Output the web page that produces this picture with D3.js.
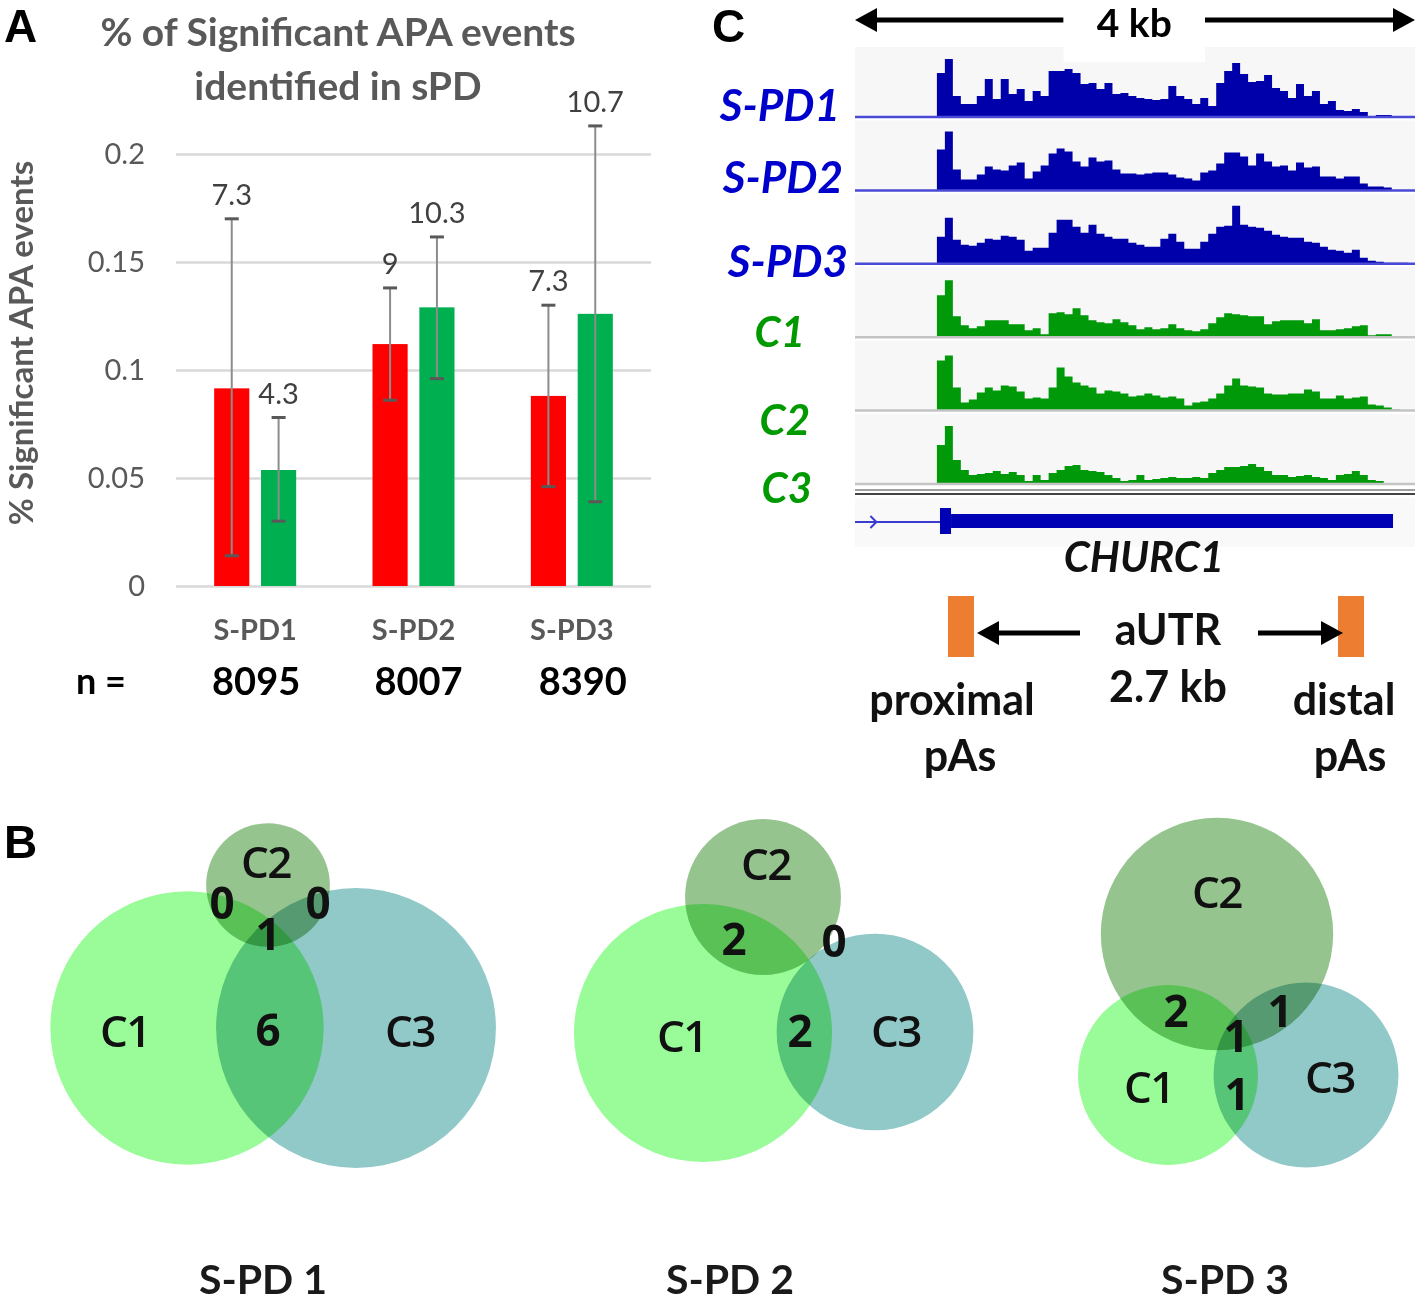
<!DOCTYPE html>
<html><head><meta charset="utf-8">
<script src="https://cdn.jsdelivr.net/npm/d3@7/dist/d3.min.js"></script>
<style>
html,body{margin:0;padding:0;background:#fff;}
svg{display:block;}
text{font-family:Lato,"Open Sans",sans-serif;}
</style></head>
<body><svg id="fig" width="1418" height="1303"></svg>
<script>
// ---------------- Panel A data ----------------
const categories = ["S-PD1", "S-PD2", "S-PD3"];
const nCounts = ["8095", "8007", "8390"];
const sPDValues = [0.0915, 0.112, 0.088];
const sPDErrLow = [0.014, 0.086, 0.046];
const sPDErrHigh = [0.170, 0.138, 0.130];
const sPDLabels = ["7.3", "9", "7.3"];
const ctrlValues = [0.0537, 0.129, 0.126];
const ctrlErrLow = [0.030, 0.096, 0.039];
const ctrlErrHigh = [0.078, 0.1616, 0.213];
const ctrlLabels = ["4.3", "10.3", "10.7"];
const yTicks = [0, 0.05, 0.1, 0.15, 0.2];
const yTickLabels = ["0", "0.05", "0.1", "0.15", "0.2"];

// ---------------- Panel C data (coverage, bins of 57 bp from 585 bp) ----------------
const trackNames = ["S-PD1", "S-PD2", "S-PD3", "C1", "C2", "C3"];
const covSPD1 = [44,58,21,13,13,21,38,18,38,23,28,16,26,21,46,46,48,44,33,34,28,34,23,24,21,19,18,17,18,31,21,18,13,19,11,34,46,54,43,35,36,42,29,26,19,33,21,26,13,16,7,6,8,5,1,2,2,0];
const covSPD2 = [41,59,21,11,11,16,24,21,20,25,28,12,19,25,37,42,39,29,24,33,29,30,21,17,17,16,17,18,18,16,13,12,10,18,20,27,38,38,34,25,37,29,24,25,20,28,23,24,14,14,12,14,14,7,4,4,3,0];
const covSPD3 = [27,46,24,19,18,21,25,24,28,27,24,13,16,16,31,44,44,37,31,39,30,27,25,25,21,19,17,17,25,30,22,15,15,22,30,37,38,58,39,37,36,33,29,27,26,26,22,21,17,14,13,11,14,6,3,2,1,1,1,0];
const covC1 = [42,57,21,12,9,11,17,17,17,13,13,7,9,3,24,25,23,29,22,17,15,14,18,15,12,8,10,8,9,13,9,7,6,8,14,20,24,23,22,21,21,13,16,17,17,17,14,18,7,7,8,9,11,12,2,3,3,0];
const covC2 = [50,55,23,8,11,18,23,20,25,24,19,12,13,12,23,43,34,28,25,23,17,20,19,17,14,15,17,15,13,14,12,5,8,9,12,17,25,32,25,24,23,17,16,16,17,17,21,19,12,12,15,12,13,14,6,5,3,1];
const covC3 = [39,58,24,14,9,10,11,13,10,12,9,3,9,4,11,14,18,19,14,13,12,9,6,3,4,9,4,5,6,7,6,6,7,6,11,14,17,17,18,20,17,13,9,9,7,8,9,7,6,4,9,10,13,9,4,3,1,0];
const covBinStart = 585, covBinSize = 57;
const geneThinEnd = 607, geneTallEnd = 686, geneEnd = 3843;
const proximalPA = 757, distalPA = 3543;

// ---------------- Panel B data ----------------
const vennTitles = ["S-PD 1", "S-PD 2", "S-PD 3"];
const vennSetNames = ["C1", "C2", "C3"];
const vennSetSizes = [[83, 17, 87], [74, 27, 43], [36, 60, 38]];
const vennRegionCounts = [["0", "0", "1", "6"], ["2", "0", "2"], ["2", "1", "1", "1"]];

// ==================================================
const svg = d3.select("#fig");
svg.append("rect").attr("width", 1418).attr("height", 1303).attr("fill", "#fff");

// panel letters
const letters = [["A", 4, 42], ["C", 712, 42], ["B", 4, 858]];
svg.selectAll("text.plet").data(letters).join("text").attr("class", "plet")
  .attr("x", d => d[1]).attr("y", d => d[2]).text(d => d[0])
  .style("font-family", "'Liberation Sans',Arial,sans-serif").style("font-weight", "bold").style("font-size", "46px").attr("fill", "#000");

// ---------------- Panel A ----------------
const A = svg.append("g");
const y = d3.scaleLinear().domain([0, 0.2]).range([586, 154]);
const x0 = d3.scaleBand().domain(categories).range([176, 651]).paddingInner(0);
const x1 = d3.scaleBand().domain(["sPD", "ctrl"]).range([-41, 41]).paddingInner(0.25);

const yAxis = d3.axisLeft(y).tickValues(yTicks).tickFormat((d, i) => yTickLabels[i]).tickSize(-475).tickPadding(31);
const gy = A.append("g").attr("transform", "translate(176,0)").call(yAxis);
gy.select(".domain").remove();
gy.selectAll(".tick line").attr("stroke", "#d9d9d9").attr("stroke-width", 2.5);
gy.selectAll(".tick text").attr("fill", "#595959").style("font-size", "29px").style("font-family", "Lato,sans-serif");

A.append("text").attr("x", 338).attr("y", 46).attr("text-anchor", "middle").attr("fill", "#595959")
  .style("font-weight", "bold").style("font-size", "39px").text("% of Significant APA events");
A.append("text").attr("x", 338).attr("y", 100).attr("text-anchor", "middle").attr("fill", "#595959")
  .style("font-weight", "bold").style("font-size", "39px").text("identified in sPD");
A.append("text").attr("transform", "translate(33,343) rotate(-90)").attr("text-anchor", "middle").attr("fill", "#595959")
  .style("font-weight", "bold").style("font-size", "33px").text("% Significant APA events");

const series = [
  {key: "sPD", color: "#ff0000", vals: sPDValues, lo: sPDErrLow, hi: sPDErrHigh, labels: sPDLabels},
  {key: "ctrl", color: "#00b050", vals: ctrlValues, lo: ctrlErrLow, hi: ctrlErrHigh, labels: ctrlLabels}
];
const barData = [];
series.forEach(s => categories.forEach((c, i) => barData.push({
  cat: c, key: s.key, color: s.color, v: s.vals[i], lo: s.lo[i], hi: s.hi[i], label: s.labels[i]
})));
const bx = d => x0(d.cat) + x0.bandwidth() / 2 + x1(d.key);
const bcx = d => bx(d) + x1.bandwidth() / 2;
A.selectAll("rect.bar").data(barData).join("rect").attr("class", "bar")
  .attr("x", bx).attr("width", x1.bandwidth())
  .attr("y", d => y(d.v)).attr("height", d => y(0) - y(d.v)).attr("fill", d => d.color);
A.selectAll("line.err").data(barData).join("line").attr("class", "err")
  .attr("x1", bcx).attr("x2", bcx).attr("y1", d => y(d.lo)).attr("y2", d => y(d.hi))
  .attr("stroke", "#8c8c8c").attr("stroke-width", 2);
["lo", "hi"].forEach(k => {
  A.selectAll("line.cap" + k).data(barData).join("line").attr("class", "cap" + k)
    .attr("x1", d => bcx(d) - 7).attr("x2", d => bcx(d) + 7).attr("y1", d => y(d[k])).attr("y2", d => y(d[k]))
    .attr("stroke", "#595959").attr("stroke-width", 3);
});
A.selectAll("text.vlab").data(barData).join("text").attr("class", "vlab")
  .attr("x", bcx).attr("y", d => y(d.hi) - 14).attr("text-anchor", "middle").attr("fill", "#404040")
  .style("font-size", "29px").text(d => d.label);

A.selectAll("text.cat").data(categories).join("text").attr("class", "cat")
  .attr("x", d => x0(d) + x0.bandwidth() / 2).attr("y", 640).attr("text-anchor", "middle").attr("fill", "#595959")
  .style("font-weight", "bold").style("font-size", "29px").text(d => d);
const nOffset = [1, 5, 11];
A.append("text").attr("x", 101).attr("y", 694).attr("text-anchor", "middle").attr("fill", "#000")
  .style("font-weight", "bold").style("font-size", "36px").text("n =");
A.selectAll("text.nval").data(nCounts).join("text").attr("class", "nval")
  .attr("x", (d, i) => x0(categories[i]) + x0.bandwidth() / 2 + nOffset[i]).attr("y", 695).attr("text-anchor", "middle")
  .attr("fill", "#000").style("font-weight", "bold").style("font-size", "38px").text(d => d);

// ---------------- Panel C ----------------
const C = svg.append("g");
const gx = d3.scaleLinear().domain([0, 4000]).range([855, 1415]);
const arrowY = 20;
C.append("line").attr("x1", gx(60)).attr("x2", gx(1490)).attr("y1", arrowY).attr("y2", arrowY).attr("stroke", "#000").attr("stroke-width", 5);
C.append("line").attr("x1", gx(2500)).attr("x2", gx(3940)).attr("y1", arrowY).attr("y2", arrowY).attr("stroke", "#000").attr("stroke-width", 5);
C.append("path").attr("d", `M${gx(0)},${arrowY} l22,-12 l0,24 z`).attr("fill", "#000");
C.append("path").attr("d", `M${gx(4000)},${arrowY} l-22,-12 l0,24 z`).attr("fill", "#000");

const trackTop = i => 47 + i * 73.4;
const trackBase = i => trackTop(i) + 70;
const covs = [covSPD1, covSPD2, covSPD3, covC1, covC2, covC3];
const isBlue = i => i < 3;
covs.forEach((cov, i) => {
  const g = C.append("g");
  g.append("rect").attr("x", gx(0)).attr("width", gx(4000) - gx(0)).attr("y", trackTop(i)).attr("height", 70)
    .attr("fill", "#f7f7f7");
  const ty = d3.scaleLinear().domain([0, 70]).range([trackBase(i), trackBase(i) - 70]);
  const pts = cov.map((v, k) => [covBinStart + k * covBinSize, v]);
  pts.push([covBinStart + cov.length * covBinSize, 0]);
  const area = d3.area().curve(d3.curveStepAfter).x(d => gx(d[0])).y0(ty(0)).y1(d => ty(d[1]));
  g.append("path").attr("d", area(pts)).attr("fill", isBlue(i) ? "#0000aa" : "#00990a");
  g.append("line").attr("x1", gx(0)).attr("x2", gx(4000)).attr("y1", ty(0)).attr("y2", ty(0))
    .attr("stroke", isBlue(i) ? "#4a4ad6" : "#c4c4c4").attr("stroke-width", 2.5);
});
C.append("rect").attr("x", gx(1490)).attr("width", gx(2500) - gx(1490)).attr("y", 0).attr("height", 62).attr("fill", "#fff");
C.append("text").attr("x", gx(1995)).attr("y", 37).attr("text-anchor", "middle").attr("fill", "#000")
  .style("font-weight", "bold").style("font-size", "39px").text("4 kb");

const labelEnd = [840, 843, 848, 805, 810, 812];
const labelBase = [121, 193, 277, 347, 435, 503];
const labelSize = [44, 44, 44, 42, 42, 42];
C.selectAll("text.tlab").data(trackNames).join("text").attr("class", "tlab")
  .attr("x", (d, i) => labelEnd[i]).attr("y", (d, i) => labelBase[i]).attr("text-anchor", "end")
  .attr("fill", (d, i) => isBlue(i) ? "#0000cc" : "#009a00")
  .style("font-weight", "bold").style("font-style", "italic").style("font-size", (d, i) => labelSize[i] + "px").text(d => d);

// gene track
C.append("line").attr("x1", gx(0)).attr("x2", gx(4000)).attr("y1", 490).attr("y2", 490).attr("stroke", "#a0a0a0").attr("stroke-width", 2);
C.append("line").attr("x1", gx(0)).attr("x2", gx(4000)).attr("y1", 494).attr("y2", 494).attr("stroke", "#444").attr("stroke-width", 2);
C.append("rect").attr("x", gx(0)).attr("width", gx(4000) - gx(0)).attr("y", 498).attr("height", 49).attr("fill", "#f9f9f9");
C.append("line").attr("x1", gx(0)).attr("x2", gx(geneThinEnd)).attr("y1", 522).attr("y2", 522).attr("stroke", "#3b3bd0").attr("stroke-width", 2);
C.append("path").attr("d", `M${gx(110)},516 l6,6 l-6,6`).attr("fill", "none").attr("stroke", "#3b3bd0").attr("stroke-width", 2);
C.append("rect").attr("x", gx(geneThinEnd)).attr("width", gx(geneTallEnd) - gx(geneThinEnd)).attr("y", 508).attr("height", 26).attr("fill", "#0000b4");
C.append("rect").attr("x", gx(geneTallEnd)).attr("width", gx(geneEnd) - gx(geneTallEnd)).attr("y", 514).attr("height", 14).attr("fill", "#0000b4");
C.append("text").attr("x", 1144).attr("y", 572).attr("text-anchor", "middle").attr("fill", "#111")
  .style("font-weight", "bold").style("font-style", "italic").style("font-size", "42px").text("CHURC1");

[proximalPA, distalPA].forEach(p => {
  C.append("rect").attr("x", gx(p) - 13).attr("width", 26).attr("y", 596).attr("height", 61).attr("fill", "#ed7d31");
});
const aY = 633;
C.append("line").attr("x1", 1080).attr("x2", gx(proximalPA) + 34).attr("y1", aY).attr("y2", aY).attr("stroke", "#000").attr("stroke-width", 5);
C.append("path").attr("d", `M${gx(proximalPA) + 16},${aY} l22,-12 l0,24 z`).attr("fill", "#000");
C.append("line").attr("x1", 1258).attr("x2", gx(distalPA) - 30).attr("y1", aY).attr("y2", aY).attr("stroke", "#000").attr("stroke-width", 5);
C.append("path").attr("d", `M${gx(distalPA) - 8},${aY} l-22,-12 l0,24 z`).attr("fill", "#000");
const annot = [["aUTR", 1168, 645], ["2.7 kb", 1168, 702], ["proximal", 952, 715], ["pAs", 960, 771], ["distal", 1344, 715], ["pAs", 1350, 771]];
C.selectAll("text.ann").data(annot).join("text").attr("class", "ann")
  .attr("x", d => d[1]).attr("y", d => d[2]).attr("text-anchor", "middle").attr("fill", "#111")
  .style("font-weight", "bold").style("font-size", "43px").text(d => d[0]);

// ---------------- Panel B ----------------
const B = svg.append("g");
const rScale = d3.scaleSqrt().domain([0, 100]).range([0, 150]);
const vennColors = {C1: "#99fc99", C2: "#96c48f", C3: "#91c8c8"};
const vennLayout = [
  {centres: [[187, 1028], [268, 885], [356, 1028]], setLab: [[125, 1047], [266, 878], [410, 1047]],
   numLab: [[222, 919], [318, 919], [268, 950], [268, 1046]], title: [263, 1294]},
  {centres: [[703, 1033], [763, 897], [875, 1032]], setLab: [[682, 1052], [766, 880], [896, 1047]],
   numLab: [[734, 955], [834, 957], [800, 1047]], title: [730, 1294]},
  {centres: [[1168, 1075], [1217, 934], [1306, 1075]], setLab: [[1149, 1103], [1217, 908], [1330, 1093]],
   numLab: [[1176, 1027], [1280, 1027], [1236, 1052], [1237, 1110]], title: [1225, 1294]}
];
const drawOrder = [1, 0, 2];
vennLayout.forEach((L, vi) => {
  const g = B.append("g").style("isolation", "isolate");
  drawOrder.forEach(si => {
    g.append("circle").attr("cx", L.centres[si][0]).attr("cy", L.centres[si][1])
      .attr("r", rScale(vennSetSizes[vi][si])).attr("fill", vennColors[vennSetNames[si]])
      .style("mix-blend-mode", "multiply");
  });
  g.selectAll("text.sl").data(vennSetNames).join("text").attr("class", "sl")
    .attr("x", (d, i) => L.setLab[i][0]).attr("y", (d, i) => L.setLab[i][1]).attr("text-anchor", "middle")
    .attr("fill", "#111").style("font-family", "'Open Sans',sans-serif").style("font-weight", "600")
    .style("font-size", "44px").style("letter-spacing", "-1.5px").text(d => d);
  g.selectAll("text.nl").data(vennRegionCounts[vi]).join("text").attr("class", "nl")
    .attr("x", (d, i) => L.numLab[i][0]).attr("y", (d, i) => L.numLab[i][1]).attr("text-anchor", "middle")
    .attr("fill", "#111").style("font-family", "'Open Sans',sans-serif").style("font-weight", "bold")
    .style("font-size", "44px").text(d => d);
  B.append("text").attr("x", L.title[0]).attr("y", L.title[1]).attr("text-anchor", "middle").attr("fill", "#1a1a1a")
    .style("font-weight", "bold").style("font-size", "41px").text(vennTitles[vi]);
});
</script></body></html>
